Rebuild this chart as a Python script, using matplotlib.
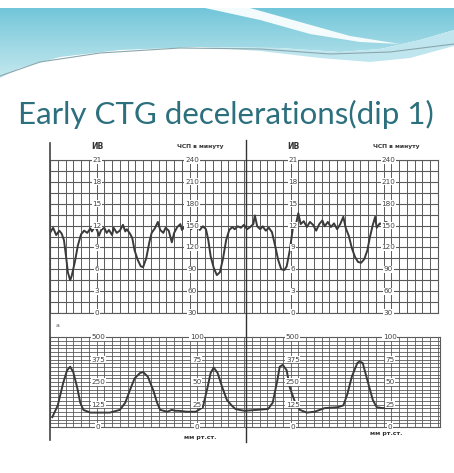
import numpy as np
import matplotlib
matplotlib.use("Agg")
import matplotlib.pyplot as plt
from matplotlib.patches import Polygon
from matplotlib.lines import Line2D
from matplotlib.colors import LinearSegmentedColormap
import matplotlib.transforms as mtransforms

# ---------------- data ----------------
title = "Early CTG decelerations(dip 1)"

# fetal heart rate trace: time (grid squares) and beats per minute
fhr_t = [0, 0.4, 0.8, 1.2, 1.5, 1.8, 2.1, 2.3, 2.6, 2.8, 3.2, 3.6, 4.0, 4.4, 4.8, 5.2,
         5.4, 5.8, 6.1, 6.3, 6.6, 7.0, 7.3, 7.6, 8.0, 8.2, 8.6, 9.0, 9.4, 9.7, 9.9, 10.3,
         10.6, 10.9, 11.3, 11.7, 12.0, 12.4, 12.8, 13.1, 13.5, 13.9, 14.2, 14.6, 14.9,
         15.3, 15.7, 16.0, 16.4, 16.8, 17.0, 17.4, 17.8, 18.2, 18.6, 18.9, 19.3, 19.7,
         20.1, 20.4, 20.7, 21.1, 21.5, 21.9, 22.3, 22.7, 23.1, 23.5, 23.8, 24.2, 24.6,
         25.0, 25.4, 25.8, 26.2, 26.4, 26.7, 27.1, 27.4, 27.8, 28.2, 28.6, 29.0, 29.4,
         29.8, 30.2, 30.5, 30.9, 31.3, 31.7, 32.0, 32.3, 32.7, 33.1, 33.5, 33.9, 34.3,
         34.7, 35.1, 35.4, 35.8, 36.2, 36.6, 37.0, 37.4, 37.8, 38.1, 38.5, 38.9, 39.3,
         39.7, 40.1, 40.5, 40.9, 41.2, 41.6, 41.9, 42.1, 42.5, 42.9, 43.3, 43.6]
fhr_bpm = [140, 147, 137, 143, 139, 130, 105, 86, 75, 81, 100, 123, 138, 143, 140, 146,
           142, 149, 143, 136, 144, 147, 140, 144, 137, 147, 140, 143, 151, 142, 145, 139,
           133, 116, 103, 94, 93, 105, 127, 140, 146, 155, 144, 140, 147,
           143, 127, 140, 148, 152, 144, 149, 155, 145, 151, 155, 144, 149,
           145, 130, 108, 92, 82, 86, 105, 130, 144, 148, 145, 149, 147,
           151, 145, 148, 152, 164, 149, 145, 149, 143, 147, 141, 123, 103,
           90, 89, 94, 116, 147, 152, 167, 152, 156, 148, 155, 151, 143,
           152, 157, 149, 155, 148, 153, 145, 152, 162, 147, 136, 119, 107,
           100, 99, 104, 116, 133, 151, 162, 147, 153, 151, 155, 153]

# uterine contraction trace: time (grid squares) and pressure (mm Hg)
uc_t = [0.3, 1.0, 1.7, 2.2, 2.6, 3.0, 3.5, 3.9, 4.3, 5.2, 7.7, 9.0, 9.7, 10.3, 10.9,
        11.6, 12.0, 12.6, 13.3, 13.8, 14.2, 15.1, 15.7, 16.1, 16.6, 17.6, 18.8, 19.7,
        20.3, 20.7, 21.1, 21.6, 22.2, 22.8, 23.4, 23.9, 24.4, 25.1, 28.1, 28.7, 29.3,
        29.6, 30.0, 30.5, 30.9, 31.6, 32.2, 33.1, 34.1, 35.4, 37.1, 37.8, 38.3, 38.9,
        39.6, 39.9, 40.3, 40.9, 41.6, 42.1, 42.8, 44.1]
uc_mmhg = [11, 24, 49, 63, 67, 61, 44, 27, 19, 16, 16, 19, 27, 41, 54,
           60, 61, 56, 41, 27, 19, 17, 19, 18, 18, 17, 17, 22,
           44, 60, 66, 60, 44, 30, 24, 20, 19, 18, 20, 27, 52,
           67, 69, 63, 44, 27, 19, 16, 17, 21, 22, 24, 36, 56,
           71, 73, 71, 52, 30, 22, 21, 21]

ib_ticks = [0, 3, 6, 9, 12, 15, 18, 21]
hr_ticks = [30, 60, 90, 120, 150, 180, 210, 240]
p_left_ticks = [0, 125, 250, 375, 500]
p_right_ticks = [0, 25, 50, 75, 100]

# label columns on the paper (grid squares)
top_ib_cols = [6.06, 31.3]
top_hr_cols = [18.3, 43.6]
low_left_cols = [6.2, 31.3]
low_right_cols = [18.9, 43.8]

# ---------------- figure ----------------
W, H = 454, 473
fig = plt.figure(figsize=(W / 100, H / 100), dpi=100)
fig.patch.set_facecolor("white")

# background / header decoration
bg = fig.add_axes([0, 0, 1, 1])
bg.set_xlim(0, W)
bg.set_ylim(H, 0)
bg.axis("off")

teal_poly = [(0, 8), (454, 8), (454, 30), (420, 40), (380, 49), (340, 52), (280, 48),
             (200, 47), (120, 50), (60, 57), (20, 68), (0, 78)]
light_poly = [(200, 47), (280, 48), (340, 52), (380, 49), (420, 40), (454, 30),
              (454, 46), (410, 58), (370, 62), (320, 58), (260, 51)]
grad = np.linspace(0, 1, 100).reshape(-1, 1)
cm = LinearSegmentedColormap.from_list("t", ["#72c6da", "#9ed8e4", "#c4e9f0"])
im = bg.imshow(grad, extent=(0, W, 80, 8), cmap=cm, aspect="auto", zorder=1)
p1 = Polygon(teal_poly, closed=True, facecolor="none", edgecolor="none")
bg.add_patch(p1)
im.set_clip_path(p1)
bg.add_patch(Polygon(light_poly, closed=True, facecolor="#bfe6ee", edgecolor="none", zorder=1))
# white swoosh
sw = [(205, 8), (250, 8), (300, 22), (350, 36), (400, 44), (360, 42), (310, 34), (260, 20)]
bg.add_patch(Polygon(sw, closed=True, facecolor="#f4fbfc", edgecolor="none", zorder=2))
bg.plot([0, 40, 100, 180, 260, 330, 390, 454], [76, 62, 53, 48, 49, 54, 52, 44],
        color="#8aa7ad", lw=0.8, zorder=3)

fig.text(18 / W, 1 - 114 / H, title, fontsize=22.5,
         family=["Lato", "DejaVu Sans"],
         color="#2c6f7d", va="center", ha="left")

grid_col = "#5a5a5a"
trace_col = "#3a3a3a"
lab_kw = dict(fontsize=5.2, color="#444444", ha="center", va="center",
              bbox=dict(facecolor="white", edgecolor="none", pad=0.4))

# ---------------- top chart: heart rate ----------------
ax1 = fig.add_axes([50 / W, 1 - 313 / H, 388 / W, 153 / H])
ax1.set_xlim(0, 50)
ax1.set_ylim(30, 240)
for x in np.arange(0, 51, 1):
    ax1.axvline(x, color=grid_col, lw=0.7, zorder=1)
for y in np.arange(30, 241, 15):
    ax1.axhline(y, color=grid_col, lw=0.8, zorder=1)
ax1.plot(fhr_t, fhr_bpm, color=trace_col, lw=1.4, zorder=3)
for c in top_ib_cols:
    for v in ib_ticks:
        ax1.text(c, v * 10 + 30, str(v), zorder=4, **lab_kw)
for c in top_hr_cols:
    for v in hr_ticks:
        ax1.text(c, v, str(v), zorder=4, **lab_kw)
for c in top_ib_cols:
    ax1.text(c, 1.085, "ИВ", transform=ax1.get_xaxis_transform(), fontsize=5.5,
             color="#333333", ha="center", va="center", fontweight="bold")
for c in top_hr_cols:
    ax1.text(c + 1.0, 1.09, "ЧСП в минуту", transform=ax1.get_xaxis_transform(),
             fontsize=4.3, color="#333333", ha="center", va="center", fontweight="bold")
ax1.text(1.0, -0.08, "a", transform=ax1.get_xaxis_transform(), fontsize=4.5,
         color="#555555", ha="center", va="center")
for s in ax1.spines.values():
    s.set_color(grid_col)
    s.set_linewidth(0.8)
ax1.set_xticks([])
ax1.set_yticks([])
ax1.patch.set_alpha(0)

# ---------------- lower chart: uterine pressure ----------------
ax2 = fig.add_axes([50 / W, 1 - 427 / H, 390 / W, 90 / H])
ax2.set_xlim(0, 390 / 7.76)
ax2.set_ylim(0, 100)
for x in np.arange(0, 51, 1):
    ax2.axvline(x, color=grid_col, lw=0.6, zorder=1)
for y in np.linspace(0, 100, 25):
    ax2.axhline(y, color=grid_col, lw=0.6, zorder=1)
ax2.plot(uc_t, uc_mmhg, color=trace_col, lw=1.4, zorder=3)
for c in low_left_cols:
    for v in p_left_ticks:
        ax2.text(c, v / 5, str(v), zorder=4, **lab_kw)
for c in low_right_cols:
    for v in p_right_ticks:
        ax2.text(c, v, str(v), zorder=4, **lab_kw)
ax2.text(19.3, -0.12, "мм рт.ст.", transform=ax2.get_xaxis_transform(), fontsize=4.5,
         color="#333333", ha="center", va="center", fontweight="bold")
ax2.text(43.3, -0.07, "мм рт.ст.", transform=ax2.get_xaxis_transform(), fontsize=4.5,
         color="#333333", ha="center", va="center", fontweight="bold")
for s in ax2.spines.values():
    s.set_color(grid_col)
    s.set_linewidth(0.8)
ax2.set_xticks([])
ax2.set_yticks([])
ax2.patch.set_alpha(0)

# paper edge lines
tr = mtransforms.blended_transform_factory(ax1.transData, fig.transFigure)
fig.add_artist(Line2D([25.3, 25.3], [1 - 140 / H, 1 - 442 / H], transform=tr,
                      color="#333333", lw=1.0))
fig.add_artist(Line2D([0, 0], [1 - 143 / H, 1 - 440 / H], transform=tr,
                      color="#444444", lw=1.2))

fig.savefig("out.png", dpi=100)
